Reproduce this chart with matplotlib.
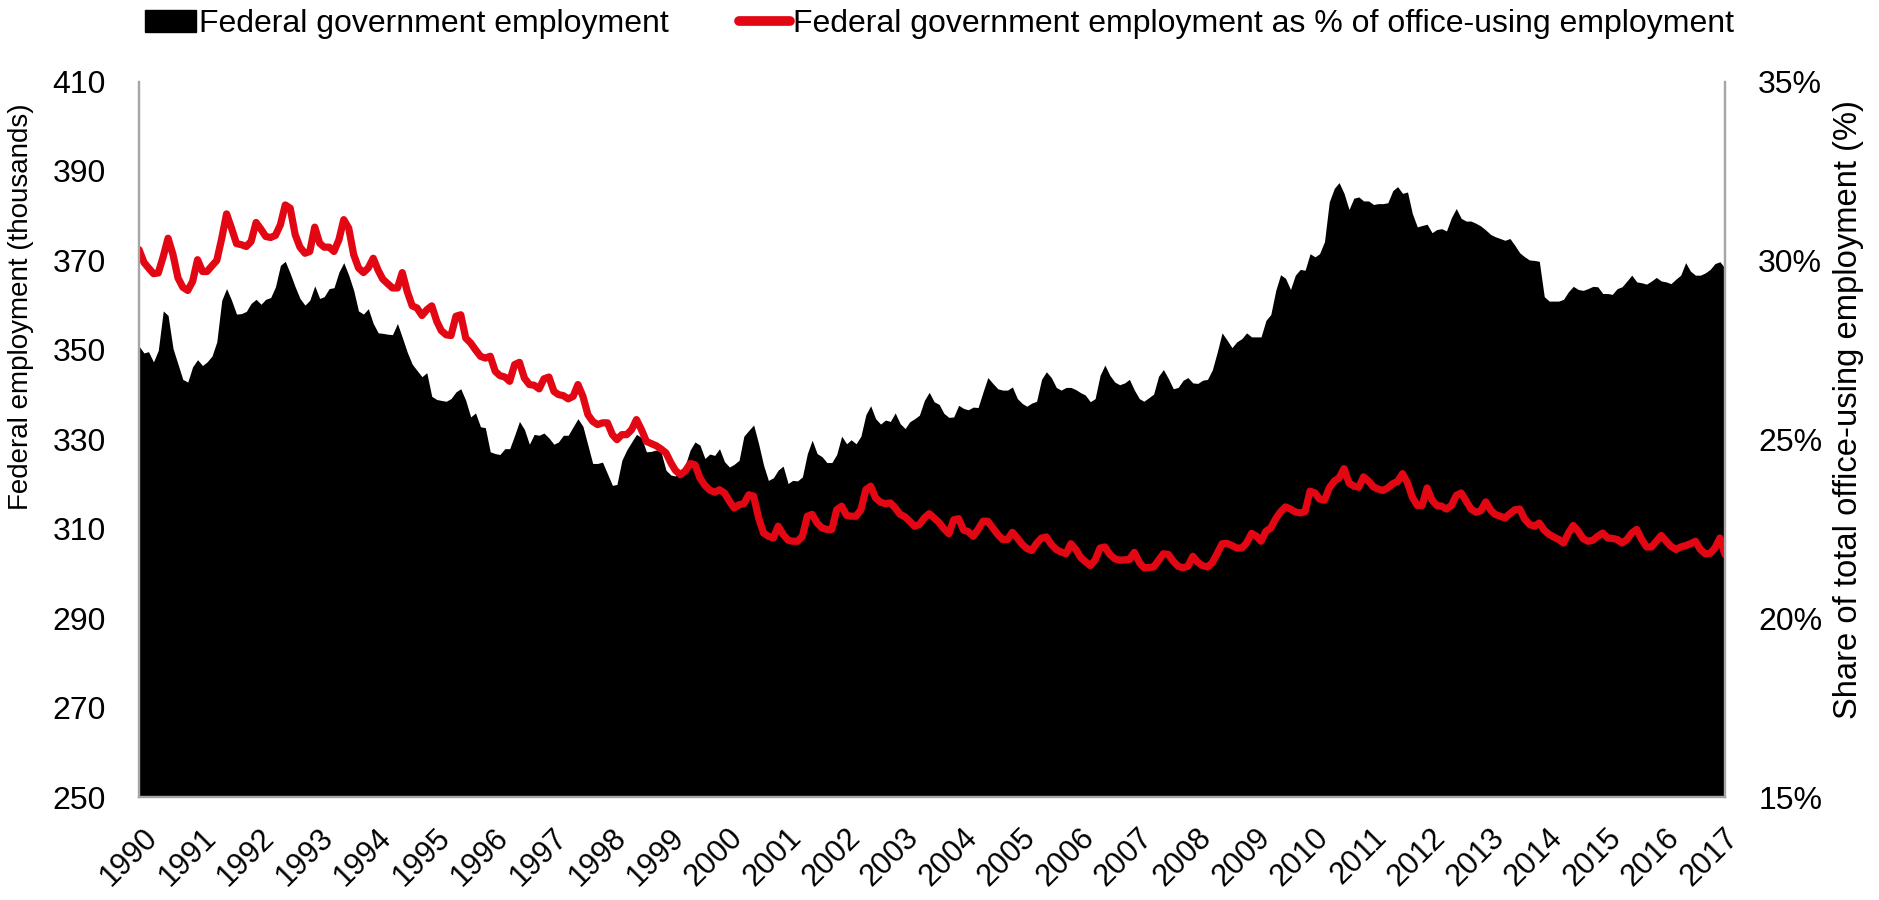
import matplotlib
matplotlib.use("Agg")
import matplotlib.pyplot as plt
import matplotlib.transforms as mtransforms
from matplotlib.patches import Patch
from matplotlib.lines import Line2D
import pandas as pd

plt.rcParams['font.family'] = ['Liberation Sans', 'DejaVu Sans']

start_month = "1990-01-01"
year_labels = [str(y) for y in range(1990, 2018)]

# Federal government employment (thousands), monthly from Jan 1990
federal_k = [
    350.8, 349.3, 349.6, 347.3, 349.9, 358.7, 357.7, 350.3, 346.8, 343.4,
    342.8, 346.2, 347.8, 346.5, 347.3, 348.6, 351.8, 361.1, 363.7, 361.1,
    358.0, 358.1, 358.6, 360.4, 361.3, 360.2, 361.3, 361.7, 364.1, 368.9,
    369.8, 367.1, 364.1, 361.5, 360.0, 361.1, 364.3, 361.5, 361.9, 363.7,
    363.9, 367.4, 369.5, 366.7, 363.3, 358.7, 358.0, 359.2, 355.9, 353.8,
    353.7, 353.5, 353.4, 355.9, 352.8, 349.5, 346.8, 345.4, 344.0, 344.9,
    339.6, 338.9, 338.7, 338.5, 339.1, 340.6, 341.3, 338.7, 335.0, 335.9,
    332.8, 332.6, 327.2, 326.8, 326.6, 327.9, 327.9, 330.9, 334.0, 332.2,
    328.9, 331.1, 330.9, 331.4, 330.3, 328.9, 329.4, 330.9, 330.9, 332.8,
    334.6, 332.9, 328.7, 324.6, 324.6, 324.9, 322.3, 319.7, 319.9, 325.3,
    327.6, 329.4, 331.1, 330.4, 327.2, 327.3, 327.6, 327.2, 323.1, 322.0,
    321.8, 323.1, 324.2, 327.6, 329.4, 328.7, 325.7, 326.7, 326.4, 327.9,
    325.0, 323.8, 324.4, 325.3, 330.7, 332.0, 333.2, 329.0, 324.2, 320.8,
    321.4, 323.1, 324.0, 320.1, 320.8, 320.7, 321.6, 326.8, 329.8, 326.8,
    326.1, 324.8, 324.8, 326.6, 330.7, 329.0, 329.9, 329.0, 330.7, 335.5,
    337.5, 334.6, 333.4, 334.3, 334.0, 335.9, 333.5, 332.4, 333.9, 334.6,
    335.4, 338.7, 340.5, 338.4, 337.8, 335.8, 334.9, 335.0, 337.6, 336.9,
    336.6, 337.2, 337.1, 340.6, 343.8, 342.5, 341.3, 341.0, 341.0, 341.7,
    339.1, 338.0, 337.4, 338.1, 338.5, 343.4, 345.1, 343.8, 341.6, 341.0,
    341.6, 341.6, 341.1, 340.4, 339.9, 338.4, 339.1, 344.3, 346.6, 344.3,
    342.8, 342.2, 342.6, 343.4, 341.0, 339.1, 338.5, 339.3, 340.1, 344.1,
    345.6, 343.6, 341.3, 341.6, 343.2, 343.8, 342.6, 342.5, 343.2, 343.4,
    345.5, 349.5, 353.8, 352.2, 350.5, 351.8, 352.5, 353.8, 352.9, 352.9,
    352.9, 356.6, 357.9, 363.3, 366.8, 366.0, 363.5, 366.7, 368.0, 367.8,
    371.5, 370.8, 371.5, 374.2, 383.1, 386.1, 387.4, 385.0, 381.4, 383.9,
    384.2, 383.3, 383.3, 382.5, 382.7, 382.7, 382.9, 385.6, 386.5, 385.0,
    385.3, 380.5, 377.5, 377.8, 378.1, 376.2, 376.9, 377.1, 376.6, 379.6,
    381.6, 379.4, 378.8, 378.8, 378.3, 377.7, 376.8, 375.8, 375.3, 374.9,
    374.5, 374.9, 373.4, 371.7, 370.8, 370.1, 370.0, 369.8, 361.9, 360.9,
    360.9, 360.9, 361.3, 363.0, 364.2, 363.5, 363.3, 363.7, 364.2, 364.1,
    362.6, 362.6, 362.4, 363.7, 364.1, 365.4, 366.7, 365.2, 365.0, 364.7,
    365.4, 366.2, 365.4, 365.2, 364.8, 365.8, 366.7, 369.5, 367.6, 366.7,
    366.7, 367.2, 368.0, 369.3, 369.7, 368.3,
]

# Federal employment as % of office-using employment
federal_share_pct = [
    30.30, 29.94, 29.79, 29.63, 29.65, 30.11, 30.62, 30.16, 29.51, 29.25,
    29.16, 29.41, 30.02, 29.69, 29.69, 29.85, 30.00, 30.62, 31.30, 30.90,
    30.47, 30.44, 30.39, 30.53, 31.06, 30.87, 30.67, 30.64, 30.70, 31.00,
    31.55, 31.46, 30.72, 30.37, 30.20, 30.25, 30.93, 30.48, 30.37, 30.37,
    30.25, 30.58, 31.14, 30.90, 30.16, 29.79, 29.66, 29.79, 30.06, 29.72,
    29.48, 29.35, 29.23, 29.23, 29.66, 29.13, 28.73, 28.67, 28.46, 28.62,
    28.73, 28.30, 28.04, 27.92, 27.90, 28.44, 28.48, 27.83, 27.69, 27.50,
    27.32, 27.27, 27.32, 26.90, 26.78, 26.74, 26.62, 27.09, 27.15, 26.71,
    26.53, 26.51, 26.41, 26.69, 26.74, 26.34, 26.25, 26.22, 26.13, 26.20,
    26.53, 26.20, 25.69, 25.50, 25.41, 25.46, 25.46, 25.13, 24.99, 25.13,
    25.13, 25.27, 25.55, 25.27, 24.94, 24.88, 24.82, 24.73, 24.62, 24.34,
    24.13, 24.01, 24.11, 24.32, 24.29, 23.92, 23.71, 23.58, 23.52, 23.59,
    23.50, 23.27, 23.08, 23.17, 23.20, 23.45, 23.41, 22.80, 22.38, 22.29,
    22.24, 22.57, 22.34, 22.18, 22.15, 22.15, 22.29, 22.85, 22.90, 22.66,
    22.52, 22.48, 22.48, 23.03, 23.13, 22.87, 22.85, 22.85, 23.03, 23.59,
    23.69, 23.36, 23.24, 23.20, 23.22, 23.08, 22.90, 22.83, 22.71, 22.57,
    22.62, 22.80, 22.92, 22.80, 22.67, 22.50, 22.36, 22.75, 22.78, 22.46,
    22.42, 22.29, 22.48, 22.71, 22.71, 22.52, 22.34, 22.20, 22.20, 22.40,
    22.24, 22.06, 21.95, 21.89, 22.09, 22.24, 22.27, 22.06, 21.92, 21.85,
    21.80, 22.08, 21.92, 21.69, 21.58, 21.47, 21.62, 21.96, 21.99, 21.78,
    21.66, 21.62, 21.63, 21.64, 21.84, 21.56, 21.41, 21.42, 21.43, 21.62,
    21.80, 21.78, 21.59, 21.45, 21.41, 21.45, 21.73, 21.56, 21.47, 21.43,
    21.55, 21.81, 22.08, 22.09, 22.03, 21.96, 21.96, 22.10, 22.37, 22.29,
    22.15, 22.43, 22.52, 22.78, 22.97, 23.11, 23.05, 22.97, 22.94, 22.98,
    23.55, 23.50, 23.33, 23.30, 23.64, 23.83, 23.92, 24.18, 23.78, 23.69,
    23.66, 23.95, 23.83, 23.67, 23.61, 23.57, 23.64, 23.76, 23.82, 24.04,
    23.78, 23.38, 23.15, 23.15, 23.64, 23.30, 23.15, 23.13, 23.05, 23.15,
    23.43, 23.50, 23.27, 23.05, 22.96, 23.00, 23.25, 23.02, 22.90, 22.85,
    22.80, 22.92, 23.03, 23.05, 22.77, 22.62, 22.57, 22.66, 22.46, 22.34,
    22.27, 22.20, 22.10, 22.38, 22.59, 22.43, 22.22, 22.15, 22.18, 22.29,
    22.38, 22.24, 22.23, 22.20, 22.10, 22.20, 22.38, 22.48, 22.20, 21.99,
    21.99, 22.15, 22.31, 22.15, 22.01, 21.92, 21.99, 22.03, 22.08, 22.15,
    21.92, 21.80, 21.81, 21.96, 22.24, 21.78,
]

left_ticks = list(range(250, 411, 20))
right_ticks = [15, 20, 25, 30, 35]

dates = pd.date_range(start_month, periods=len(federal_k), freq="MS")
year_ticks = pd.date_range("1990-01-01", periods=len(year_labels), freq="YS")

RED = "#E30613"
AXIS_GRAY = "#A6A6A6"

fig = plt.figure(figsize=(18.79, 9.0), dpi=100)
ax = fig.add_axes([0.074, 0.1144, 0.844, 0.7950])

ax.fill_between(dates, left_ticks[0], federal_k, color="black", linewidth=0)
ax.set_ylim(left_ticks[0], left_ticks[-1])
ax.set_xlim(dates[0], dates[-1])
ax.set_yticks(left_ticks)
ax.set_xticks(year_ticks)
ax.set_xticklabels(year_labels, rotation=45, ha="right", va="center",
                   rotation_mode="anchor")
ax.tick_params(axis="x", length=0, pad=26, labelsize=22)
ax.tick_params(axis="y", length=0, pad=24, labelsize=23)
shift = mtransforms.ScaledTranslation(14 / 100, 0, fig.dpi_scale_trans)
for lbl in ax.get_xticklabels():
    lbl.set_transform(lbl.get_transform() + shift)
ax.set_ylabel("Federal employment (thousands)", fontsize=20)
ax.yaxis.set_label_coords(-0.066, 0.685)

ax2 = ax.twinx()
ax2.plot(dates, federal_share_pct, color=RED, linewidth=5.2,
         solid_joinstyle="round", solid_capstyle="round")
ax2.set_ylim(right_ticks[0], right_ticks[-1])
ax2.set_yticks(right_ticks)
ax2.set_yticklabels([f"{t}%" for t in right_ticks])
ax2.tick_params(axis="y", length=0, pad=24, labelsize=23)
ax2.set_ylabel("Share of total office-using employment (%)", fontsize=23.6)
ax2.yaxis.set_label_coords(1.068, 0.542)

for a in (ax, ax2):
    a.spines["top"].set_visible(False)
    for s in ("left", "right", "bottom"):
        a.spines[s].set_color(AXIS_GRAY)
        a.spines[s].set_linewidth(1.6)

handles = [
    Patch(facecolor="black", edgecolor="black"),
    Line2D([0], [0], color=RED, linewidth=7, solid_capstyle="round"),
]
labels = [
    "Federal government employment",
    "Federal government employment as % of office-using employment",
]
fig.legend(handles, labels, loc="center", bbox_to_anchor=(0.5, 0.973),
           ncol=2, frameon=False, fontsize=23, handlelength=1.6,
           handletextpad=0.1, columnspacing=2.2)

fig.savefig("out.png", dpi=100)
